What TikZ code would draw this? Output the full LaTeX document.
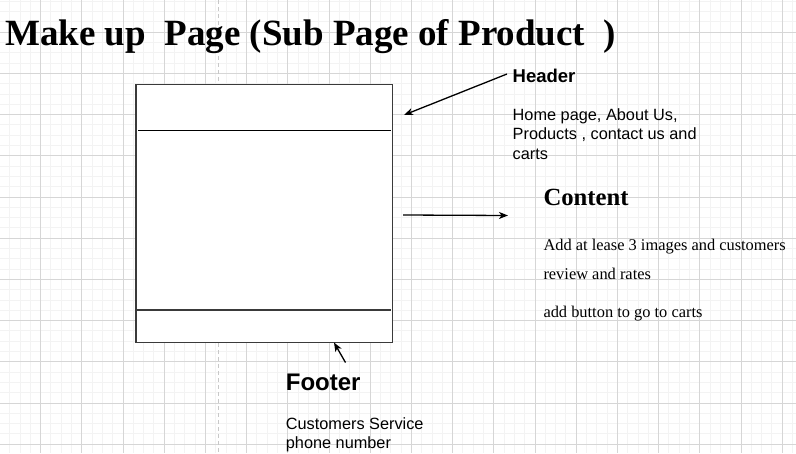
\documentclass[tikz,border=0pt]{standalone}
\usepackage{fontspec}
\setmainfont{Liberation Serif}
\newfontfamily\arial{Liberation Sans}
\usepackage{tikz}
\usetikzlibrary{arrows.meta}
\definecolor{majgrid}{HTML}{D6D6D6}
\definecolor{mingrid}{HTML}{F3F3F3}
\definecolor{guide}{HTML}{C8C8C8}
\definecolor{boxline}{HTML}{3A3A3A}

\begin{document}
\begin{tikzpicture}[x=1pt,y=-1pt,
  arr/.style={line width=1.3pt,-{Stealth[length=9pt,width=7pt,inset=2.5pt]}},
  sanstext/.style={anchor=base west,inner sep=0,align=left,font=\arial\fontsize{16.3}{19.5}\selectfont},
  seriftext/.style={anchor=base west,inner sep=0,align=left,font=\fontsize{16.4}{29.3}\selectfont}]
  \useasboundingbox (0,0) rectangle (796,453);
  \fill[white] (0,0) rectangle (796,453);
  % grid
  \def\minstep{10.3}
  \def\majstep{41.2}
  \foreach \k in {0,...,78} {
    \draw[mingrid,line width=0.8pt] ({-0.7+\minstep*\k},0) -- ({-0.7+\minstep*\k},453);
  }
  \foreach \k in {0,...,45} {
    \draw[mingrid,line width=0.8pt] (0,{-9.1+\minstep*\k}) -- (796,{-9.1+\minstep*\k});
  }
  \foreach \k in {0,...,20} {
    \draw[majgrid,line width=0.8pt] ({-0.7+\majstep*\k},0) -- ({-0.7+\majstep*\k},453);
  }
  \foreach \k in {0,...,11} {
    \draw[majgrid,line width=0.8pt] (0,{-9.1+\majstep*\k}) -- (796,{-9.1+\majstep*\k});
  }
  \draw[guide,line width=1.3pt,dash pattern=on 4pt off 3pt] (218.5,0) -- (218.5,453);
  % page sketch
  \node (page) at (264.25,213.5) [draw=boxline,fill=white,line width=1.4pt,
        minimum width=256.5pt,minimum height=258pt,inner sep=0] {};
  \draw[line width=1.3pt] (138,130.5) -- (390.5,130.5);
  \draw[line width=1.3pt,boxline] (136.7,310) -- (390.5,310);
  \node (title) at (5,45) [anchor=base west,inner sep=0,font=\bfseries\fontsize{37}{44}\selectfont]
        {Make up\ \ Page (Sub Page of Product\ \ )};
  % texts (base = last line)
  \node (header) at (512.5,82) [sanstext,font=\arial\bfseries\fontsize{18.5}{22}\selectfont] {Header};
  \node (headtxt) at (512.5,159) [sanstext] {Home page, About Us,\\Products , contact us and\\carts};
  \node (content) at (543.3,205.7) [seriftext,font=\bfseries\fontsize{24.7}{29}\selectfont] {Content};
  \node (conttxt) at (543.3,279.3) [seriftext] {Add at lease 3 images and customers\\review and rates};
  \node (cartbtn) at (543.3,317.7) [seriftext] {add button to go to carts};
  \node (footer) at (285.7,390.7) [sanstext,font=\arial\bfseries\fontsize{24}{28}\selectfont] {Footer};
  \node (foottxt) at (285.7,448.3) [sanstext,font=\arial\fontsize{16.3}{19}\selectfont] {Customers Service\\phone number};
  % pointers
  \coordinate (hs) at (507,74);
  \coordinate (he) at (404,115);
  \coordinate (cs) at (403,215);
  \coordinate (ce) at (508,215.5);
  \coordinate (fs) at (345.5,362.5);
  \coordinate (fe) at (334,342.5);
  \draw[arr] (hs) -- (he);
  \draw[arr] (cs) -- (ce);
  \draw[arr] (fs) -- (fe);
\end{tikzpicture}
\end{document}
